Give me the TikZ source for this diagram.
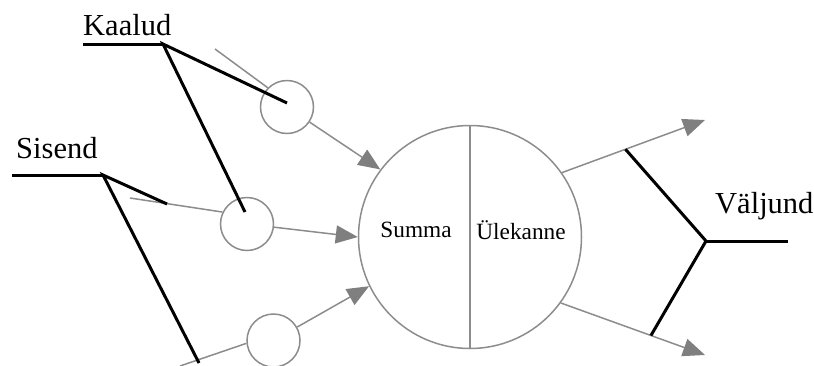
\documentclass[tikz,border=0pt]{standalone}
\usepackage{fontspec}
\setmainfont{Liberation Serif}
\usetikzlibrary{arrows.meta}
\definecolor{wire}{HTML}{8C8C8C}
\definecolor{tipgray}{HTML}{7F7F7F}
\begin{document}
\begin{tikzpicture}[x=1pt,y=-1pt,
  wire/.style={draw=wire,line width=1.5pt},
  flow/.style={wire,-{Triangle[length=22pt,width=18pt,color=tipgray]}},
  weight/.style={circle,draw=wire,line width=1.5pt,minimum size=53pt,inner sep=0pt,fill=white},
  unit/.style={circle,draw=wire,line width=1.5pt,minimum size=223pt,inner sep=0pt},
  pointer/.style={draw=black,line width=3pt},
  biglabel/.style={font=\fontsize{30.5}{33}\selectfont,inner sep=0pt,anchor=base west},
  innerlabel/.style={font=\fontsize{23.3}{26}\selectfont,inner sep=0pt,anchor=base}]
\useasboundingbox (0,0) rectangle (814,365);
\clip (0,0) rectangle (814,365);

% weight circles and the neuron body
\node[weight] (s1) at (287,107) {};
\node[weight] (s2) at (247,224) {};
\node[weight] (s3) at (273.5,340.5) {};
\node[unit] (big) at (470,237) {};
\draw[wire] (big.north) -- (big.south);
\node[innerlabel] (summa) at (416,237) {Summa};
\node[innerlabel] (ylek) at (521,239) {Ülekanne};

% incoming signal lines
\coordinate (in1) at (215,49);
\coordinate (in2) at (130,198);
\coordinate (in3) at (180,366);
\draw[wire] (in1) -- (s1.135);
\draw[wire] (in2) -- (s2.154);
\draw[wire] (in3) -- (s3.186);

% weighted inputs into the body
\draw[flow] (s1) -- (big.143);
\draw[flow] (s2) -- (big.180);
\draw[flow] (s3) -- (big.206);

% outputs
\coordinate (out1) at (705,120);
\coordinate (out2) at (705,355);
\draw[flow] (big.35) -- coordinate[pos=0.444] (o1) (out1);
\draw[flow] (big.-36) -- coordinate[pos=0.625] (o2) (out2);

% label: Kaalud
\node[biglabel] (kaalud) at (83,35) {Kaalud};
\coordinate (kj) at (163,44);
\coordinate (k1) at (287,103);
\coordinate (k2) at (245,212);
\draw[pointer] (83,44) -- (kj);
\draw[pointer] (k1) -- (kj) -- (k2);

% label: Sisend
\node[biglabel] (sisend) at (16,158) {Sisend};
\coordinate (sj) at (103,175);
\coordinate (p1) at (167,204);
\coordinate (p2) at (199,363);
\draw[pointer] (12,175) -- (sj);
\draw[pointer] (p1) -- (sj) -- (p2);

% label: Väljund
\node[biglabel] (valjund) at (715,213) {Väljund};
\coordinate (vj) at (706,241);
\draw[pointer] (o1) -- (vj) -- (o2);
\draw[pointer] (vj) -- (788,241);
\end{tikzpicture}
\end{document}
